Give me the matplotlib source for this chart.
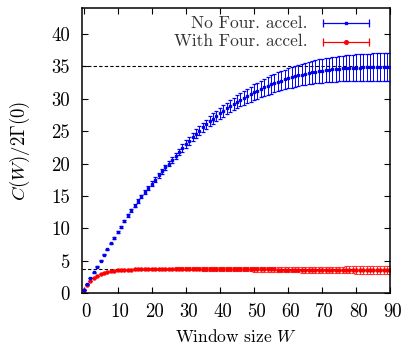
import matplotlib
matplotlib.use('Agg')
import matplotlib.pyplot as plt
import matplotlib.transforms as mtransforms

plt.rcParams['font.family'] = 'cmr10'
plt.rcParams['mathtext.fontset'] = 'cm'
plt.rcParams['axes.unicode_minus'] = False

# window sizes
W = list(range(91))

# no Fourier acceleration
blue_val = [0.5, 1.4, 2.3, 3.2, 4.1, 5.0, 5.9, 6.8, 7.7, 8.55,
            9.4, 10.28, 11.15, 12.0, 12.76, 13.5, 14.22, 14.92, 15.6, 16.26,
            16.9, 17.54, 18.17, 18.79, 19.4, 20.0, 20.6, 21.2, 21.8, 22.4,
            23.0, 23.55, 24.08, 24.6, 25.1, 25.58, 26.05, 26.5, 26.93, 27.35,
            27.75, 28.14, 28.51, 28.87, 29.21, 29.54, 29.86, 30.16, 30.45, 30.73,
            31.0, 31.26, 31.51, 31.75, 31.98, 32.2, 32.41, 32.61, 32.8, 32.98,
            33.15, 33.31, 33.46, 33.6, 33.73, 33.85, 33.96, 34.06, 34.16, 34.25,
            34.33, 34.4, 34.47, 34.53, 34.58, 34.63, 34.67, 34.71, 34.74, 34.77,
            34.8, 34.82, 34.84, 34.85, 34.86, 34.87, 34.87, 34.88, 34.88, 34.88,
            34.88]
blue_err = [0.0, 0.01, 0.02, 0.03, 0.045, 0.06, 0.075, 0.09, 0.11, 0.12,
            0.14, 0.16, 0.18, 0.20, 0.22, 0.235, 0.25, 0.27, 0.29, 0.315,
            0.34, 0.36, 0.38, 0.40, 0.42, 0.44, 0.46, 0.49, 0.51, 0.545,
            0.58, 0.61, 0.63, 0.66, 0.69, 0.71, 0.74, 0.77, 0.8, 0.82,
            0.85, 0.88, 0.91, 0.94, 0.97, 1.0, 1.04, 1.08, 1.12, 1.16,
            1.2, 1.24, 1.28, 1.32, 1.36, 1.4, 1.43, 1.46, 1.5, 1.53,
            1.56, 1.59, 1.62, 1.65, 1.68, 1.7, 1.73, 1.76, 1.79, 1.82,
            1.85, 1.87, 1.89, 1.91, 1.93, 1.95, 1.97, 1.99, 2.01, 2.03,
            2.05, 2.07, 2.08, 2.1, 2.11, 2.13, 2.14, 2.16, 2.17, 2.19,
            2.2]

# with Fourier acceleration
red_val = [0.5, 1.3, 1.9, 2.35, 2.68, 2.93, 3.12, 3.26, 3.37, 3.45,
           3.51, 3.56, 3.6, 3.63, 3.65, 3.67, 3.69, 3.7, 3.71, 3.72,
           3.73, 3.74, 3.75, 3.76, 3.77, 3.77, 3.78, 3.78, 3.78, 3.77,
           3.77, 3.76, 3.76, 3.75, 3.75, 3.74, 3.74, 3.74, 3.73, 3.73,
           3.73, 3.72, 3.72, 3.72, 3.71, 3.71, 3.7, 3.7, 3.7, 3.69,
           3.69, 3.68, 3.68, 3.67, 3.67, 3.66, 3.66, 3.65, 3.65, 3.64,
           3.64, 3.64, 3.63, 3.63, 3.63, 3.62, 3.62, 3.62, 3.61, 3.61,
           3.61, 3.6, 3.6, 3.6, 3.6, 3.59, 3.59, 3.59, 3.59, 3.58,
           3.58, 3.58, 3.58, 3.57, 3.57, 3.57, 3.57, 3.56, 3.56, 3.56,
           3.56]
red_err = [0.0, 0.01, 0.02, 0.02, 0.03, 0.04, 0.04, 0.05, 0.06, 0.06,
           0.07, 0.08, 0.08, 0.09, 0.1, 0.1, 0.11, 0.12, 0.12, 0.13,
           0.14, 0.14, 0.15, 0.16, 0.17, 0.17, 0.18, 0.19, 0.19, 0.2,
           0.21, 0.21, 0.22, 0.23, 0.23, 0.24, 0.25, 0.25, 0.26, 0.27,
           0.28, 0.28, 0.29, 0.3, 0.3, 0.31, 0.32, 0.32, 0.33, 0.34,
           0.35, 0.35, 0.36, 0.37, 0.37, 0.38, 0.39, 0.39, 0.4, 0.41,
           0.41, 0.42, 0.43, 0.43, 0.44, 0.45, 0.46, 0.46, 0.47, 0.48,
           0.48, 0.49, 0.5, 0.5, 0.51, 0.52, 0.52, 0.53, 0.54, 0.54,
           0.55, 0.56, 0.57, 0.57, 0.58, 0.59, 0.59, 0.6, 0.61, 0.61,
           0.62]

# asymptotes (dashed)
asym = [35.0, 3.72]

xticks = [0, 10, 20, 30, 40, 50, 60, 70, 80, 90]
yticks = [0, 5, 10, 15, 20, 25, 30, 35, 40]

fig = plt.figure(figsize=(4.03, 3.44), dpi=100)
ax = fig.add_axes([0.2047, 0.1477, 0.764, 0.829])

for a in asym:
    ax.axhline(a, color='black', lw=0.8, ls=(0, (3, 2)), zorder=1)

ax.errorbar(W, blue_val, yerr=blue_err, fmt='s', ms=1.6, color='#0000ee',
            ecolor='#0000ff', elinewidth=0.7, capsize=1.6, capthick=0.9, zorder=3)
ax.errorbar(W, red_val, yerr=red_err, fmt='o', ms=2.2, color='#ff0000',
            ecolor='#ff3030', elinewidth=0.7, capsize=1.6, capthick=0.8, zorder=2)

ax.set_xlim(-0.3, 90)
ax.set_ylim(0, 44)
ax.set_xticks(xticks)
ax.set_yticks(yticks)
ax.set_xticklabels([str(t) for t in xticks], fontsize=13.5)
ax.set_yticklabels([str(t) for t in yticks], fontsize=13.5)
ax.tick_params(direction='in', length=4, width=0.8, top=True, right=True)
ax.tick_params(axis='y', pad=9)
ax.tick_params(axis='x', pad=7)
shift = mtransforms.ScaledTranslation(2.5 / 100, 0, fig.dpi_scale_trans)
for lab in ax.get_xticklabels():
    lab.set_transform(lab.get_transform() + shift)
for s in ax.spines.values():
    s.set_linewidth(1.1)

ax.set_xlabel(r'Window size $W$', fontsize=12.5, labelpad=5)
ax.set_ylabel(r'$C(W)/2\Gamma(0)$', fontsize=13.5, labelpad=14)

# gnuplot style key
keys = [('No Four. accel.', '#0000ff', 's', 1.6, 0.946),
        ('With Four. accel.', '#ff0000', 'o', 2.6, 0.882)]
for label, col, mk, ms, ky in keys:
    ax.text(0.732, ky, label, transform=ax.transAxes, ha='right', va='center',
            fontsize=12.5, color='#333333')
    ax.plot([0.780, 0.932], [ky, ky], transform=ax.transAxes, color=col, lw=0.9,
            marker='|', markevery=[0, 1], ms=6, mew=0.9)
    ax.plot([0.856], [ky], transform=ax.transAxes, color=col, marker=mk, ms=ms)

fig.savefig('out.png', dpi=100)
